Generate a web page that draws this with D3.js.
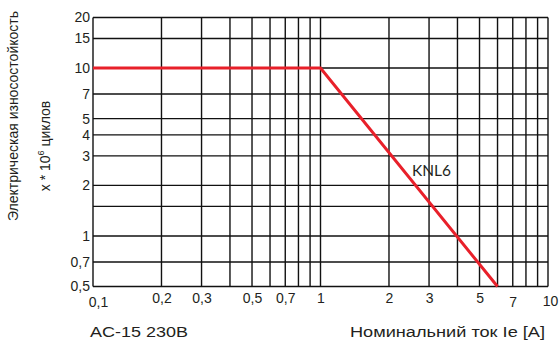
<!DOCTYPE html>
<html><head><meta charset="utf-8">
<script src="https://cdn.jsdelivr.net/npm/d3@7"></script>
<style>
html,body{margin:0;padding:0;background:#fff;}
svg{display:block;}
text{font-family:"Liberation Sans",Arial,sans-serif;fill:#231f20;}
</style></head>
<body>
<svg id="chart" width="559" height="343"></svg>
<script>
// Data
const currentA = [0.1, 1, 6];
const lifeMillions = [10, 10, 0.5];
const seriesName = "KNL6";
const xGrid = [0.1,0.2,0.3,0.4,0.5,0.6,0.7,0.8,0.9,1,2,3,4,5,6,7,8,9,10];
const yGrid = [0.5,0.7,1,1.5,2,3,4,5,7,10,15,20];
const xTickValues = [0.1,0.2,0.3,0.5,0.7,1,2,3,5,7,10];
const xTickLabels = ["0,1","0,2","0,3","0,5","0,7","1","2","3","5","7","10"];
const yTickValues = [0.5,0.7,1,2,3,4,5,7,10,15,20];
const yTickLabels = ["0,5","0,7","1","2","3","4","5","7","10","15","20"];
const yTitle1 = "Электрическая износостойкость";
const yTitle2a = "x * 10";
const yTitle2sup = "6";
const yTitle2b = " циклов";
const footLeft = "AC-15 230B";
const footRight = "Номинальний ток Ie [A]";

const svg = d3.select("#chart");
const L = 93, R = 548, T = 17.5, B = 286.5;
const x = d3.scaleLog().domain([0.1, 10]).range([L, R]);
const y = d3.scaleLog().domain([0.5, 20]).range([B, T]);

const grid = svg.append("g").attr("stroke", "#111").attr("stroke-width", 1.4);
grid.selectAll("line.v").data(xGrid).join("line").attr("class","v")
  .attr("x1", d => x(d)).attr("x2", d => x(d)).attr("y1", T).attr("y2", B);
grid.selectAll("line.h").data(yGrid).join("line").attr("class","h")
  .attr("y1", d => y(d)).attr("y2", d => y(d)).attr("x1", L).attr("x2", R);

// X axis labels
const xAxis = d3.axisBottom(x).tickValues(xTickValues)
  .tickFormat((d,i) => xTickLabels[i]).tickSize(0).tickPadding(6);
const gx = svg.append("g").attr("transform", `translate(0,${B})`).call(xAxis);
gx.select(".domain").remove();
gx.selectAll("text").attr("font-size", 14).attr("font-family","Liberation Sans, Arial, sans-serif")
  .attr("fill","#231f20")
  .attr("dy", d => (d === 0.1 || d === 7) ? "1.05em" : (d === 10 ? "0.95em" : "0.75em"))
  .attr("dx", d => d === 0.1 ? 5 : (d === 10 ? 2 : 0));

// Y axis labels
const yAxis = d3.axisLeft(y).tickValues(yTickValues)
  .tickFormat((d,i) => yTickLabels[i]).tickSize(0).tickPadding(3);
const gy = svg.append("g").attr("transform", `translate(${L},0)`).call(yAxis);
gy.select(".domain").remove();
gy.selectAll("text").attr("font-size", 14).attr("font-family","Liberation Sans, Arial, sans-serif")
  .attr("fill","#231f20");

// Red line
const line = d3.line().x((d,i) => x(currentA[i])).y((d,i) => y(lifeMillions[i]));
svg.append("path").datum(currentA).attr("d", line)
  .attr("fill","none").attr("stroke","#e8202a").attr("stroke-width",3);

svg.append("text").attr("x", 412).attr("y", 176).attr("font-size", 15.5)
  .style("font-family","Lato, 'Open Sans', sans-serif").attr("fill","#231f20")
  .attr("textLength", 39).attr("lengthAdjust","spacingAndGlyphs")
  .text(seriesName);

// Y titles
svg.append("text").attr("transform","translate(18,116) rotate(-90)")
  .attr("text-anchor","middle").attr("font-size",14).attr("fill","#333").text(yTitle1);
const t2 = svg.append("text").attr("transform","translate(50,146) rotate(-90)")
  .attr("text-anchor","middle").attr("font-size",14).attr("fill","#333");
t2.append("tspan").text(yTitle2a);
t2.append("tspan").attr("font-size",9).attr("dy",-6).text(yTitle2sup);
t2.append("tspan").attr("dy",6).text(yTitle2b);

// Footer
svg.append("text").attr("x", 90).attr("y", 337).attr("font-size", 15.5).attr("fill","#333")
  .attr("textLength", 98).attr("lengthAdjust","spacingAndGlyphs").text(footLeft);
svg.append("text").attr("x", 350).attr("y", 337).attr("font-size", 15.5).attr("fill","#333")
  .attr("textLength", 195).attr("lengthAdjust","spacingAndGlyphs").text(footRight);
</script>
</body></html>
